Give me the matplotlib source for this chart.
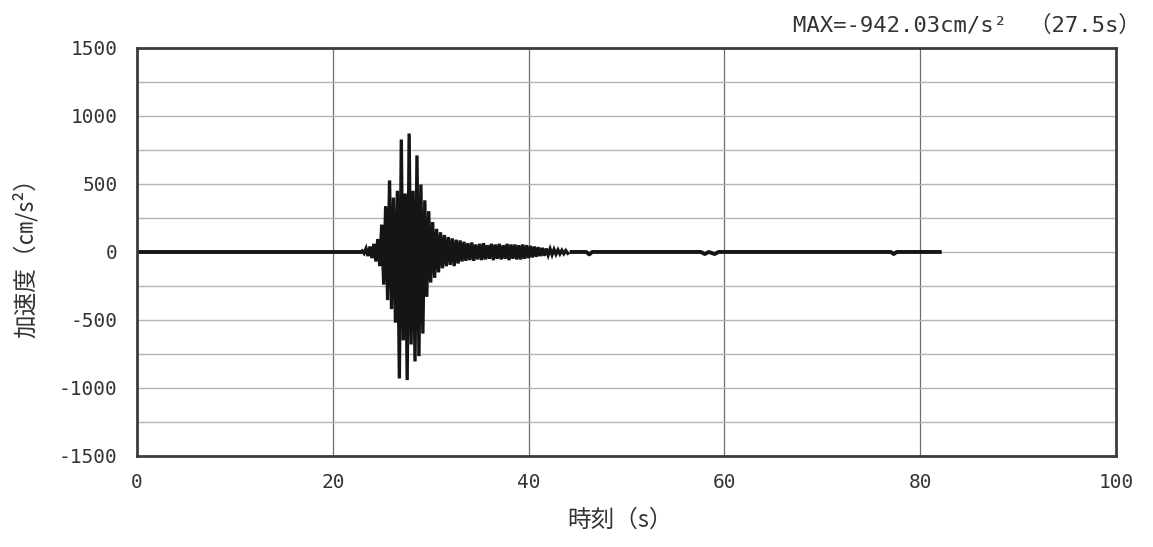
"""Acceleration time history (seismic record) recreated with matplotlib."""

import matplotlib
matplotlib.use("Agg")
import matplotlib.pyplot as plt
import numpy as np

JP_FONT = ["Noto Sans CJK JP", "DejaVu Sans"]
NUM_FONT = ["DejaVu Sans Mono", "Noto Sans CJK JP"]

# quiet part before the event
t_pre = [0.0, 23.0]
acc_pre = [0.0, 0.0]

# strong motion, sampled every 0.2 s from 23.0 s (alternating peaks, cm/s^2)
t_strong_start = 23.0
dt_strong = 0.2
acc_strong = [
    8, -10, 25, -30, 40, -45, 60, -70, 95, -104,
    200, -240, 337, -354, 526, -420, 400, -520, 450, -930,
    827, -650, 430, -942, 871, -680, 450, -805, 710, -766,
    496, -600, 380, -330, 300, -225, 220, -190, 170, -150,
    145, -120, 125, -105, 110, -95, 100, -104, 90, -85,
    85, -70, 75, -65, 65, -60, 70, -65, 55, -55,
    60, -60, 65, -55, 50, -50, 60, -60, 55, -50,
    60, -55, 50, -50, 60, -60, 55, -50, 55, -55,
    50, -55, 55, -50, 50, -45, 45, -40, 40, -35,
    35, -30, 30, -28, 25, -22, 22, -20, 18, -16,
    15, -14, 12, -12, 10, -10,
]

# quiet tail after the event
t_post = [44.2, 45.9, 46.2, 46.5, 57.6, 58.0, 58.4, 59.0, 59.4, 77.0, 77.3, 77.6, 80.0, 82.2]
acc_post = [0, 0, -18, 0, 0, -15, 0, -15, 0, 0, -15, 0, 0, 0]

x_ticks = [0, 20, 40, 60, 80, 100]
y_ticks = [-1500, -1000, -500, 0, 500, 1000, 1500]
y_minor = [-1250, -750, -250, 250, 750, 1250]

title_text = "MAX=-942.03cm/s²　（27.5s）"
x_label = "時刻（s）"
y_label = "加速度（㎝/s²）"

t_strong = t_strong_start + dt_strong * np.arange(len(acc_strong))

fig = plt.figure(figsize=(11.53, 5.47), dpi=100)
ax = fig.add_axes([0.1188, 0.1664, 0.8491, 0.7459])

wave_color = "#151515"
ax.plot(t_pre, acc_pre, color=wave_color, lw=2.8, solid_capstyle="butt")
ax.plot(t_strong, acc_strong, color=wave_color, lw=2.4, solid_joinstyle="miter")
ax.plot(t_post, acc_post, color=wave_color, lw=2.8, solid_capstyle="butt")

ax.set_xlim(0, 100)
ax.set_ylim(-1500, 1500)
ax.set_xticks(x_ticks)
ax.set_yticks(y_ticks)
ax.set_yticks(y_minor, minor=True)
ax.set_xticklabels([str(v) for v in x_ticks], family=NUM_FONT, fontsize=14, color="#333333")
ax.set_yticklabels([str(v) for v in y_ticks], family=NUM_FONT, fontsize=14, color="#333333")
ax.tick_params(axis="both", which="both", length=0)
ax.tick_params(axis="x", pad=12)
ax.tick_params(axis="y", pad=14)

ax.grid(True, axis="y", which="both", color="#b4b4b4", lw=1.0)
ax.grid(True, axis="x", which="major", color="#6e6e6e", lw=0.9)
ax.set_axisbelow(True)

for spine in ax.spines.values():
    spine.set_color("#3c3c3c")
    spine.set_linewidth(2.0)

fig.text(0.989, 0.954, title_text, ha="right", va="center", family=NUM_FONT,
         fontsize=16, color="#333333")
fig.text(0.538, 0.049, x_label, ha="center", va="center", family=JP_FONT,
         fontsize=17, color="#333333")
fig.text(0.022, 0.539, y_label, ha="center", va="center", rotation=90,
         family=JP_FONT, fontsize=17, color="#333333")

fig.savefig("out.png", dpi=100)
plt.close(fig)
